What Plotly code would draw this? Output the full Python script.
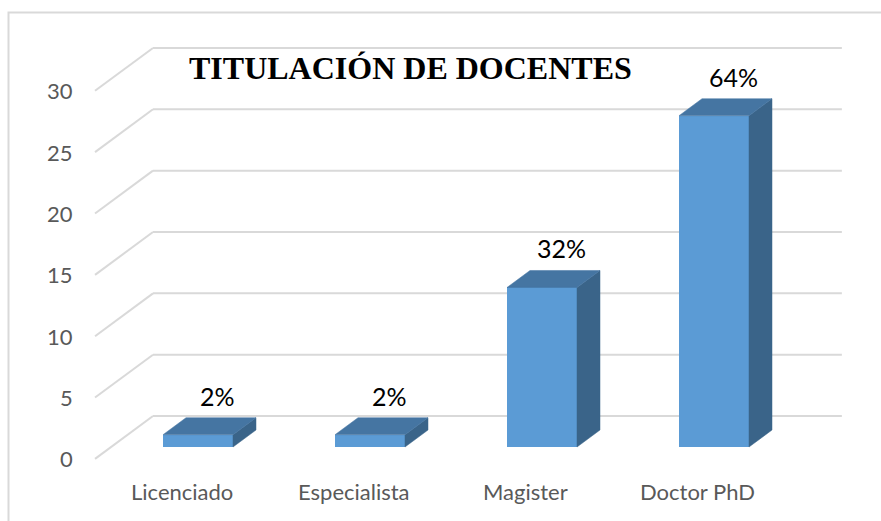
import plotly.graph_objects as go

# ---- data ----
categories = ["Licenciado", "Especialista", "Magister", "Doctor PhD"]
counts = [1, 1, 13, 27]
pct_labels = ["2%", "2%", "32%", "64%"]
y_ticks = [0, 5, 10, 15, 20, 25, 30]
title_text = "TITULACIÓN DE DOCENTES"

# ---- pseudo-3D geometry (in axis units) ----
W, H = 881, 521
PX_PER_X = 172.0          # px per category step
PX_PER_Y = 12.27          # px per value unit
X0_PX, Y0_PX = 198.0, 447.0   # pixel of (x=0, y=0) at bar front face
DX = 23.0 / PX_PER_X      # depth offset per unit depth (x)
DY = 17.0 / PX_PER_Y      # depth offset per unit depth (y)
BAR_W = 70.0 / PX_PER_X
D_FRONT, D_BACK = -0.7, 1.82
X_LEFT, X_RIGHT = -0.505, 3.5

x_range = [-X0_PX / PX_PER_X, (W - X0_PX) / PX_PER_X]
y_range = [(Y0_PX - H) / PX_PER_Y, Y0_PX / PX_PER_Y]

def proj(x, y, d):
    return x + DX * d, y + DY * d

fig = go.Figure()

# gridlines: left wall diagonal + back wall horizontal (as shapes below traces)
shapes = []
for v in y_ticks:
    pts = [proj(X_LEFT, v, D_FRONT), proj(X_LEFT, v, D_BACK), proj(X_RIGHT, v, D_BACK)]
    for (a, b) in zip(pts[:-1], pts[1:]):
        shapes.append(dict(type="line", xref="x", yref="y",
                           x0=a[0], y0=a[1], x1=b[0], y1=b[1],
                           line=dict(color="#d9d9d9", width=2), layer="below"))

FRONT, TOP, SIDE = "#5b9bd5", "#4575a2", "#3a6489"

for i, v in enumerate(counts):
    xl, xr = i - BAR_W / 2, i + BAR_W / 2
    # side face
    sx = [xr, xr, xr + DX, xr + DX, xr]
    sy = [0, v, v + DY, DY, 0]
    fig.add_trace(go.Scatter(x=sx, y=sy, mode="lines", fill="toself",
                             fillcolor=SIDE, line=dict(color=SIDE, width=0.5),
                             hoverinfo="skip", showlegend=False))
    # top face
    tx = [xl, xr, xr + DX, xl + DX, xl]
    ty = [v, v, v + DY, v + DY, v]
    fig.add_trace(go.Scatter(x=tx, y=ty, mode="lines", fill="toself",
                             fillcolor=TOP, line=dict(color=TOP, width=0.5),
                             hoverinfo="skip", showlegend=False))

# front faces
fig.add_trace(go.Bar(x=list(range(len(categories))), y=counts, width=BAR_W,
                     marker=dict(color=FRONT, line=dict(width=0)),
                     hoverinfo="skip", showlegend=False))

annotations = []
# value labels
for i, (v, t) in enumerate(zip(counts, pct_labels)):
    annotations.append(dict(x=i + DX * 0.85, y=v + DY, xref="x", yref="y",
                            text=t, showarrow=False, yanchor="middle",
                            yshift=22,
                            font=dict(family="Lato", size=25, color="#000000")))
# y tick labels (front plane)
for v in y_ticks:
    px, py = proj(X_LEFT, v, D_FRONT)
    annotations.append(dict(x=px, y=py, xref="x", yref="y", text=str(v),
                            showarrow=False, xanchor="right", yanchor="middle",
                            xshift=-20,
                            font=dict(family="Lato", size=22, color="#595959")))
# category labels
for i, c in enumerate(categories):
    px, py = proj(i, 0, D_FRONT)
    annotations.append(dict(x=px, y=py, xref="x", yref="y", text=c,
                            showarrow=False, xanchor="center", yanchor="middle",
                            yshift=-33,
                            font=dict(family="Lato", size=22, color="#595959")))
# title
annotations.append(dict(x=410 / W, y=1 - 68 / H, xref="paper", yref="paper",
                        text="<b>" + title_text + "</b>", showarrow=False,
                        xanchor="center", yanchor="middle",
                        font=dict(family="Liberation Serif", size=32,
                                  color="#000000")))

shapes.append(dict(type="rect", xref="paper", yref="paper",
                   x0=8.5 / W, x1=1.05, y0=-0.05, y1=1 - 12.5 / H,
                   line=dict(color="#d9d9d9", width=2), layer="below"))

fig.update_layout(
    width=W, height=H,
    margin=dict(l=0, r=0, t=0, b=0),
    paper_bgcolor="white", plot_bgcolor="white",
    xaxis=dict(range=x_range, visible=False, fixedrange=True),
    yaxis=dict(range=y_range, visible=False, fixedrange=True),
    annotations=annotations,
    shapes=shapes,
    bargap=0,
)

fig.write_html("out.html", config={"displayModeBar": False},
               post_script="document.body.style.margin='0';document.body.style.overflow='hidden';")
